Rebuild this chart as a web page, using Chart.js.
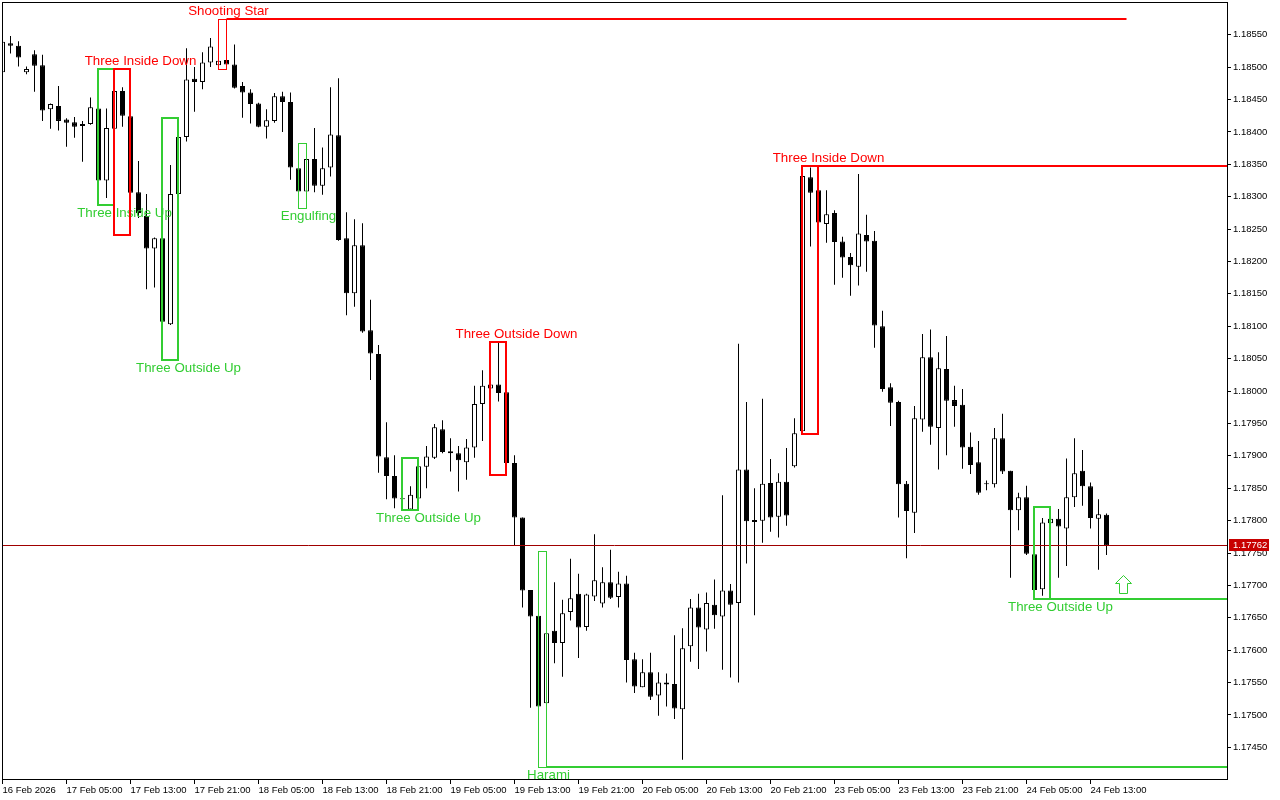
<!DOCTYPE html>
<html>
<head>
<meta charset="utf-8">
<title>EURUSD H1</title>
<script src="https://cdn.jsdelivr.net/npm/chart.js@4.4.1/dist/chart.umd.min.js"></script>
<style>
  html, body { margin: 0; padding: 0; background: #ffffff; }
  #wrap { width: 1280px; height: 800px; }
</style>
</head>
<body>
<div id="wrap"><canvas id="chart" width="1280" height="800"></canvas></div>
<script>
// H1 bars, 16 Feb 21:00 .. 24 Feb 15:00 (index 0 = first visible bar)
const opens = [
  1.18492, 1.18537, 1.18533, 1.18492, 1.18520, 1.18503, 1.18435, 1.18440, 1.18419, 1.18415,
  1.18409, 1.18412, 1.18436, 1.18325, 1.18405, 1.18463, 1.18424, 1.18307, 1.18270, 1.18220,
  1.18236, 1.18103, 1.18304, 1.18392, 1.18482, 1.18477, 1.18507, 1.18503, 1.18511, 1.18504,
  1.18471, 1.18461, 1.18444, 1.18408, 1.18417, 1.18455, 1.18446, 1.18344, 1.18308, 1.18358,
  1.18317, 1.18345, 1.18395, 1.18236, 1.18151, 1.18225, 1.18094, 1.18057, 1.17898, 1.17869,
  1.17834, 1.17817, 1.17834, 1.17883, 1.17897, 1.17941, 1.17907, 1.17904, 1.17890, 1.17913,
  1.17980, 1.18004, 1.18010, 1.17998, 1.17889, 1.17805, 1.17693, 1.17653, 1.17518, 1.17630,
  1.17611, 1.17659, 1.17687, 1.17636, 1.17683, 1.17672, 1.17705, 1.17682, 1.17703, 1.17586,
  1.17543, 1.17566, 1.17530, 1.17550, 1.17548, 1.17509, 1.17606, 1.17666, 1.17632, 1.17670,
  1.17652, 1.17692, 1.17673, 1.17879, 1.17798, 1.17800, 1.17858, 1.17806, 1.17860, 1.17884,
  1.17938, 1.18330, 1.18310, 1.18258, 1.18275, 1.18231, 1.18207, 1.18192, 1.18241, 1.18232,
  1.18100, 1.18006, 1.17983, 1.17857, 1.17812, 1.17956, 1.18052, 1.17943, 1.18034, 1.17986,
  1.17979, 1.17914, 1.17890, 1.17856, 1.17856, 1.17927, 1.17877, 1.17816, 1.17836, 1.17748,
  1.17694, 1.17796, 1.17803, 1.17788, 1.17836, 1.17877, 1.17853, 1.17803, 1.17809
];
const highs = [
  1.18542, 1.18548, 1.18540, 1.18501, 1.18526, 1.18519, 1.18444, 1.18471, 1.18421, 1.18423,
  1.18417, 1.18453, 1.18443, 1.18436, 1.18497, 1.18469, 1.18441, 1.18355, 1.18304, 1.18237,
  1.18237, 1.18349, 1.18421, 1.18529, 1.18500, 1.18523, 1.18545, 1.18514, 1.18573, 1.18535,
  1.18477, 1.18466, 1.18445, 1.18435, 1.18460, 1.18462, 1.18461, 1.18345, 1.18382, 1.18406,
  1.18376, 1.18469, 1.18483, 1.18276, 1.18265, 1.18259, 1.18141, 1.18071, 1.17952, 1.17901,
  1.17873, 1.17853, 1.17896, 1.17915, 1.17949, 1.17955, 1.17927, 1.17915, 1.17926, 1.18008,
  1.18032, 1.18050, 1.18075, 1.18027, 1.17901, 1.17805, 1.17693, 1.17661, 1.17753, 1.17705,
  1.17678, 1.17741, 1.17718, 1.17687, 1.17779, 1.17728, 1.17755, 1.17721, 1.17715, 1.17596,
  1.17586, 1.17596, 1.17566, 1.17564, 1.17623, 1.17634, 1.17679, 1.17687, 1.17689, 1.17709,
  1.17839, 1.17702, 1.18073, 1.17983, 1.17850, 1.17988, 1.17895, 1.17873, 1.17912, 1.17958,
  1.18347, 1.18345, 1.18340, 1.18310, 1.18279, 1.18238, 1.18213, 1.18335, 1.18272, 1.18247,
  1.18124, 1.18012, 1.17985, 1.17861, 1.17977, 1.18088, 1.18095, 1.18060, 1.18085, 1.18008,
  1.18003, 1.17936, 1.17923, 1.17862, 1.17943, 1.17965, 1.17877, 1.17843, 1.17854, 1.17765,
  1.17804, 1.17821, 1.17818, 1.17896, 1.17927, 1.17909, 1.17859, 1.17833, 1.17811
];
const lows = [
  1.18491, 1.18521, 1.18501, 1.18489, 1.18462, 1.18417, 1.18405, 1.18402, 1.18377, 1.18391,
  1.18354, 1.18411, 1.18286, 1.18298, 1.18395, 1.18408, 1.18240, 1.18267, 1.18157, 1.18160,
  1.18047, 1.18102, 1.18289, 1.18385, 1.18431, 1.18466, 1.18500, 1.18496, 1.18502, 1.18467,
  1.18422, 1.18413, 1.18407, 1.18390, 1.18414, 1.18400, 1.18326, 1.18282, 1.18307, 1.18307,
  1.18303, 1.18331, 1.18232, 1.18117, 1.18130, 1.18090, 1.18017, 1.17874, 1.17833, 1.17819,
  1.17816, 1.17816, 1.17833, 1.17850, 1.17895, 1.17904, 1.17876, 1.17845, 1.17863, 1.17897,
  1.17923, 1.17969, 1.17984, 1.17870, 1.17761, 1.17666, 1.17511, 1.17419, 1.17480, 1.17580,
  1.17559, 1.17646, 1.17588, 1.17630, 1.17676, 1.17666, 1.17679, 1.17666, 1.17550, 1.17534,
  1.17543, 1.17523, 1.17499, 1.17513, 1.17494, 1.17431, 1.17582, 1.17571, 1.17598, 1.17633,
  1.17570, 1.17558, 1.17550, 1.17734, 1.17654, 1.17766, 1.17783, 1.17774, 1.17792, 1.17882,
  1.17933, 1.18223, 1.18204, 1.18229, 1.18164, 1.18175, 1.18147, 1.18163, 1.18184, 1.18067,
  1.17999, 1.17946, 1.17805, 1.17742, 1.17781, 1.17937, 1.17917, 1.17879, 1.17901, 1.17945,
  1.17880, 1.17872, 1.17840, 1.17847, 1.17851, 1.17872, 1.17712, 1.17785, 1.17747, 1.17678,
  1.17684, 1.17770, 1.17712, 1.17730, 1.17821, 1.17823, 1.17788, 1.17724, 1.17747
];
const closes = [
  1.18539, 1.18533, 1.18515, 1.18497, 1.18502, 1.18433, 1.18443, 1.18417, 1.18414, 1.18408,
  1.18412, 1.18438, 1.18325, 1.18406, 1.18463, 1.18425, 1.18306, 1.18275, 1.18220, 1.18236,
  1.18107, 1.18304, 1.18392, 1.18481, 1.18477, 1.18507, 1.18532, 1.18510, 1.18504, 1.18468,
  1.18461, 1.18443, 1.18408, 1.18418, 1.18455, 1.18446, 1.18345, 1.18308, 1.18358, 1.18317,
  1.18344, 1.18396, 1.18233, 1.18151, 1.18225, 1.18092, 1.18058, 1.17899, 1.17869, 1.17834,
  1.17833, 1.17840, 1.17884, 1.17899, 1.17944, 1.17906, 1.17904, 1.17893, 1.17913, 1.17980,
  1.18008, 1.18010, 1.17997, 1.17889, 1.17805, 1.17692, 1.17652, 1.17513, 1.17626, 1.17611,
  1.17657, 1.17680, 1.17635, 1.17686, 1.17708, 1.17705, 1.17681, 1.17703, 1.17585, 1.17544,
  1.17566, 1.17528, 1.17550, 1.17547, 1.17510, 1.17603, 1.17666, 1.17635, 1.17673, 1.17654,
  1.17692, 1.17670, 1.17879, 1.17799, 1.17801, 1.17857, 1.17805, 1.17860, 1.17808, 1.17935,
  1.18332, 1.18306, 1.18260, 1.18273, 1.18230, 1.18206, 1.18194, 1.18243, 1.18231, 1.18101,
  1.18003, 1.17982, 1.17856, 1.17815, 1.17958, 1.18052, 1.17945, 1.18035, 1.17985, 1.17977,
  1.17913, 1.17886, 1.17843, 1.17856, 1.17927, 1.17876, 1.17816, 1.17836, 1.17749, 1.17693,
  1.17797, 1.17803, 1.17791, 1.17836, 1.17873, 1.17853, 1.17804, 1.17810, 1.17762
];

// time axis labels, one every 8 bars
const timeLabels = [
  '16 Feb 2026', '17 Feb 05:00', '17 Feb 13:00', '17 Feb 21:00', '18 Feb 05:00', '18 Feb 13:00',
  '18 Feb 21:00', '19 Feb 05:00', '19 Feb 13:00', '19 Feb 21:00', '20 Feb 05:00', '20 Feb 13:00',
  '20 Feb 21:00', '23 Feb 05:00', '23 Feb 13:00', '23 Feb 21:00', '24 Feb 05:00', '24 Feb 13:00'
];
const labelStep = 8;

// price axis
const priceTicks = [
  1.17450, 1.17500, 1.17550, 1.17600, 1.17650, 1.17700, 1.17750, 1.17800, 1.17850, 1.17900,
  1.17950, 1.18000, 1.18050, 1.18100, 1.18150, 1.18200, 1.18250, 1.18300, 1.18350, 1.18400,
  1.18450, 1.18500, 1.18550
];
const priceMin = 1.174012;
const priceMax = 1.186005;
const lastPrice = 1.17762;

// candlestick patterns found by the indicator (bar index ranges)
const patterns = [
  { name: 'Three Inside Up', from: 12, to: 14, bullish: true },
  { name: 'Three Inside Down', from: 14, to: 16, bullish: false },
  { name: 'Three Outside Up', from: 20, to: 22, bullish: true },
  { name: 'Shooting Star', from: 27, to: 28, bullish: false, lineEnd: 140.5 },
  { name: 'Engulfing', from: 37, to: 38, bullish: true },
  { name: 'Three Outside Up', from: 50, to: 52, bullish: true },
  { name: 'Three Outside Down', from: 61, to: 63, bullish: false },
  { name: 'Harami', from: 67, to: 68, bullish: true, lineEnd: 'edge' },
  { name: 'Three Inside Down', from: 100, to: 102, bullish: false, lineEnd: 'edge' },
  { name: 'Three Outside Up', from: 129, to: 131, bullish: true, lineEnd: 'edge' }
];
const signalIndex = 140;
const signalPrice = 1.17716;

const GREEN = '#32cd32';
const RED = '#ff0000';
const AXIS_FONT = { family: '"Liberation Sans", Arial, sans-serif', size: 9.5 };

/**
 * Snaps a coordinate so a line of the given width is drawn sharp
 */
function crisp(v, w) {
    return w % 2 ? Math.floor(v) + 0.5 : Math.floor(v);
}

/**
 * Pattern boxes, their labels and the level lines
 */
const patternPlugin = {
    id: 'patterns',
    afterDatasetsDraw(chart) {
        const { ctx, chartArea: area, scales: { x, y } } = chart;
        ctx.save();
        ctx.beginPath();
        ctx.rect(area.left, area.top, area.right - area.left, area.bottom - area.top);
        ctx.clip();

        // last price line
        const yp = crisp(y.getPixelForValue(lastPrice), 1);
        ctx.strokeStyle = '#a00000';
        ctx.lineWidth = 1;
        ctx.beginPath();
        ctx.moveTo(area.left, yp);
        ctx.lineTo(area.right, yp);
        ctx.stroke();

        patterns.forEach(p => {
            const hi = Math.max(...highs.slice(p.from, p.to + 1));
            const lo = Math.min(...lows.slice(p.from, p.to + 1));
            const color = p.bullish ? GREEN : RED;
            const bars = p.to - p.from + 1;
            const w = bars >= 3 ? 2 : 1;
            const x0 = crisp(x.getPixelForValue(p.from), w);
            const x1 = crisp(x.getPixelForValue(p.to), w);
            const y0 = crisp(y.getPixelForValue(hi), w);
            const y1 = crisp(y.getPixelForValue(lo), w);

            ctx.strokeStyle = color;
            ctx.lineWidth = w;
            ctx.strokeRect(x0, y0, x1 - x0, y1 - y0);

            // level line
            if (p.lineEnd !== undefined) {
                const ly = crisp(y.getPixelForValue(p.bullish ? lo : hi), 2);
                const lx = p.lineEnd === 'edge' ? area.right : x.getPixelForValue(p.lineEnd);
                ctx.lineWidth = 2;
                ctx.beginPath();
                ctx.moveTo(x.getPixelForValue(p.to), ly);
                ctx.lineTo(lx, ly);
                ctx.stroke();
            }

            // label
            ctx.font = '13.3px "Liberation Sans", Arial, sans-serif';
            ctx.fillStyle = color;
            ctx.textAlign = 'center';
            ctx.textBaseline = 'middle';
            const tx = x.getPixelForValue(p.to) + (bars >= 3 ? 10 : 2);
            const ty = p.bullish ? y.getPixelForValue(lo) + 8 : y.getPixelForValue(hi) - 8;
            ctx.fillText(p.name, tx, ty);
        });

        // buy arrow
        const ax = Math.round(x.getPixelForValue(signalIndex));
        const ay = Math.round(y.getPixelForValue(signalPrice));
        ctx.beginPath();
        ctx.moveTo(ax + 0.5, ay + 0.5);
        ctx.lineTo(ax + 8.5, ay + 8.5);
        ctx.lineTo(ax + 4.5, ay + 8.5);
        ctx.lineTo(ax + 4.5, ay + 18.5);
        ctx.lineTo(ax - 3.5, ay + 18.5);
        ctx.lineTo(ax - 3.5, ay + 8.5);
        ctx.lineTo(ax - 7.5, ay + 8.5);
        ctx.closePath();
        ctx.fillStyle = '#ffffff';
        ctx.fill();
        ctx.strokeStyle = GREEN;
        ctx.lineWidth = 1;
        ctx.stroke();

        ctx.restore();
    }
};

/**
 * Chart frame and the last price tag on the price scale
 */
const framePlugin = {
    id: 'frame',
    afterDraw(chart) {
        const { ctx, chartArea: area, scales: { y } } = chart;
        ctx.save();
        ctx.strokeStyle = '#000000';
        ctx.lineWidth = 1;
        ctx.strokeRect(area.left + 0.5, area.top + 0.5, area.right - area.left, area.bottom - area.top);

        const yp = Math.round(y.getPixelForValue(lastPrice));
        ctx.fillStyle = '#c80000';
        ctx.fillRect(area.right + 2, yp - 6, 40, 12);
        ctx.fillStyle = '#ffffff';
        ctx.font = `${AXIS_FONT.size}px ${AXIS_FONT.family}`;
        ctx.textAlign = 'left';
        ctx.textBaseline = 'middle';
        ctx.fillText(lastPrice.toFixed(5), area.right + 6, yp + 0.5);
        ctx.restore();
    }
};

/**
 * Removes the label padding Chart.js reserves around an axis
 */
function noPadding(scale) {
    scale.paddingTop = 0;
    scale.paddingBottom = 0;
    scale.paddingLeft = 0;
    scale.paddingRight = 0;
}

const bodyData = opens.map((o, i) => ({ x: i, y: [o, closes[i]] }));
const wickData = lows.map((l, i) => ({ x: i, y: [l, highs[i]] }));
const bodyFill = opens.map((o, i) => closes[i] > o ? '#ffffff' : '#000000');

const ctx = document.getElementById('chart');
const chart = new Chart(ctx, {
    type: 'bar',
    data: {
        datasets: [
            {
                label: 'body',
                data: bodyData,
                backgroundColor: bodyFill,
                borderColor: '#000000',
                borderWidth: 1,
                borderSkipped: false,
                barThickness: 5,
                minBarLength: 1,
                inflateAmount: 0,
                grouped: false,
                order: 1
            },
            {
                label: 'wick',
                data: wickData,
                backgroundColor: '#000000',
                borderWidth: 0,
                barThickness: 1,
                inflateAmount: 0,
                grouped: false,
                order: 2
            }
        ]
    },
    options: {
        responsive: false,
        animation: false,
        devicePixelRatio: 1,
        layout: { padding: { left: 2, top: 2, right: 0, bottom: 0 } },
        plugins: {
            legend: { display: false },
            tooltip: { enabled: false }
        },
        scales: {
            x: {
                type: 'linear',
                min: -0.0625,
                max: 153.0625,
                offset: false,
                afterBuildTicks: scale => {
                    scale.ticks = timeLabels.map((t, i) => ({ value: i * labelStep }));
                },
                afterFit: scale => {
                    scale.height = 21;
                    noPadding(scale);
                },
                ticks: {
                    autoSkip: false,
                    maxRotation: 0,
                    minRotation: 0,
                    align: 'start',
                    padding: 1,
                    color: '#000000',
                    font: AXIS_FONT,
                    callback: v => timeLabels[Math.round(v / labelStep)]
                },
                grid: { offset: false, drawOnChartArea: false, tickLength: 5, color: '#000000' },
                border: { display: false }
            },
            y: {
                position: 'right',
                min: priceMin,
                max: priceMax,
                afterBuildTicks: scale => {
                    scale.ticks = priceTicks.map(v => ({ value: v }));
                },
                afterFit: scale => {
                    scale.width = 53;
                    noPadding(scale);
                },
                ticks: {
                    autoSkip: false,
                    padding: 2,
                    color: '#000000',
                    font: AXIS_FONT,
                    callback: v => Number(v).toFixed(5)
                },
                grid: { drawOnChartArea: false, tickLength: 4, color: '#000000' },
                border: { display: false }
            }
        }
    },
    plugins: [patternPlugin, framePlugin]
});
</script>
</body>
</html>
